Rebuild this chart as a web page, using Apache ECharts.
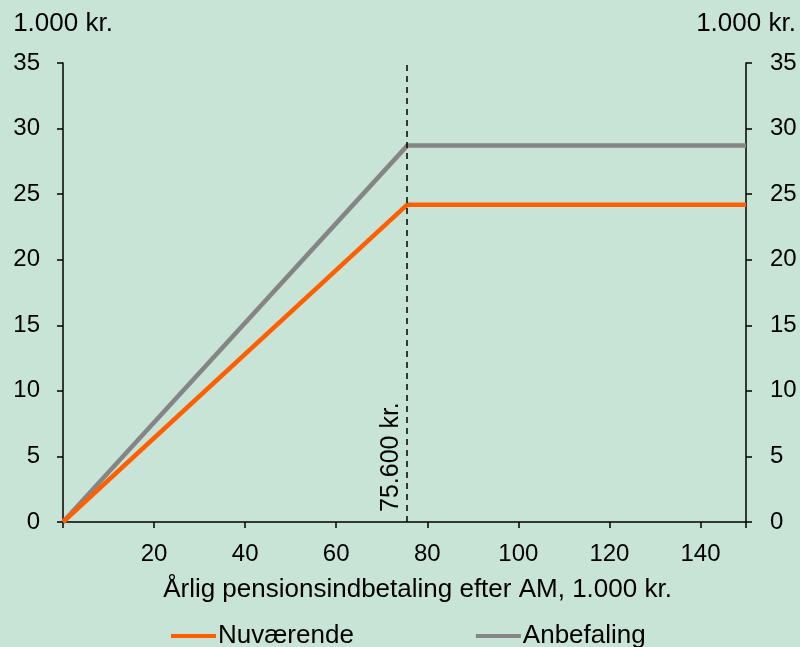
<!DOCTYPE html>
<html>
<head>
<meta charset="utf-8">
<script src="https://cdn.jsdelivr.net/npm/echarts@6/dist/echarts.min.js"></script>
<style>
  html, body { margin: 0; padding: 0; background: #c7e4d7; }
  #chart { width: 800px; height: 647px; }
</style>
</head>
<body>
<div id="chart"></div>
<script>
// x-værdier (1.000 kr.)
const xPoints = [0, 75.6, 150];
// serier
const nuvaerende = [0, 24.2, 24.2];
const anbefaling = [0, 28.7, 28.7];
const graense = 75.6;

const font = 'Liberation Sans, Arial, sans-serif';
const chart = echarts.init(document.getElementById('chart'));

const yAxisBase = {
  type: 'value',
  min: 0,
  max: 35,
  interval: 5,
  name: '1.000 kr.',
  nameLocation: 'end',
  nameGap: 26,
  nameTextStyle: { color: '#000', fontSize: 26, fontFamily: font },
  axisLine: { show: true, lineStyle: { color: '#000', width: 1.5 } },
  axisTick: { show: true, length: 6, lineStyle: { color: '#000', width: 1.5 } },
  axisLabel: { color: '#000', fontSize: 24, fontFamily: font, margin: 23 },
  splitLine: { show: false }
};

chart.setOption({
  backgroundColor: '#c7e4d7',
  grid: { left: 63, right: 54, top: 63, bottom: 125 },
  legend: {
    top: 618,
    left: 166,
    itemWidth: 45,
    itemHeight: 4,
    itemGap: 122,
    textStyle: { color: '#000', fontSize: 26, fontFamily: font, padding: [0, 0, 0, -3] },
    icon: 'rect',
    data: ['Nuværende', 'Anbefaling']
  },
  xAxis: {
    type: 'value',
    min: 0,
    max: 150,
    interval: 20,
    name: 'Årlig pensionsindbetaling efter AM, 1.000 kr.',
    nameLocation: 'middle',
    nameGap: 55,
    nameTextStyle: { color: '#000', fontSize: 26, fontFamily: font, padding: [0, 0, 0, 26] },
    axisLine: { lineStyle: { color: '#000', width: 1.5 } },
    axisTick: { show: true, length: 6, lineStyle: { color: '#000', width: 1.5 } },
    axisLabel: {
      color: '#000', fontSize: 24, fontFamily: font, margin: 20,
      formatter: v => (v === 0 || v === 150) ? '' : v
    },
    splitLine: { show: false }
  },
  yAxis: [
    Object.assign({}, yAxisBase, { position: 'left' }),
    Object.assign({}, yAxisBase, { position: 'right', axisLabel: Object.assign({}, yAxisBase.axisLabel, { margin: 24 }) })
  ],
  series: [
    {
      name: 'Nuværende',
      type: 'line',
      data: xPoints.map((x, i) => [x, nuvaerende[i]]),
      symbol: 'none',
      lineStyle: { color: '#ff5f00', width: 4.5 },
      itemStyle: { color: '#ff5f00' },
      z: 3,
      markLine: {
        silent: true,
        symbol: 'none',
        lineStyle: { color: '#000', type: [6, 5], width: 1.5 },
        label: {
          show: true,
          position: 'insideStartTop',
          formatter: '75.600 kr.',
          color: '#000',
          fontSize: 25,
          fontFamily: font,
          distance: [10, 4]
        },
        data: [{ xAxis: graense }]
      }
    },
    {
      name: 'Anbefaling',
      type: 'line',
      data: xPoints.map((x, i) => [x, anbefaling[i]]),
      symbol: 'none',
      lineStyle: { color: '#858585', width: 4.5 },
      itemStyle: { color: '#858585' },
      z: 2
    }
  ]
});
</script>
</body>
</html>
